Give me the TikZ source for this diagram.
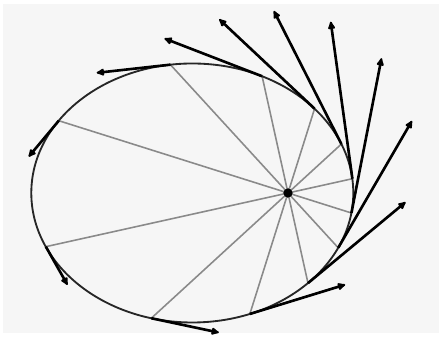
\documentclass[tikz,border=0pt]{standalone}
\usepackage{xcolor}
\usetikzlibrary{arrows.meta}
\definecolor{bgpanel}{HTML}{F6F6F6}
\definecolor{spokegray}{HTML}{8A8A8A}
\def\ecc{0.594}
\def\semilat{104.2}
\begin{document}
\begin{tikzpicture}[x=0.02cm, y=0.02cm, orbit/.style={line width=1.05pt, black!85}, spoke/.style={line width=0.9pt, spokegray}, vel/.style={line width=1.5pt, -{Latex[round,length=5.5pt,width=5pt]}}, sun/.style={circle, fill=black, inner sep=0pt, minimum size=5.2pt}]
\useasboundingbox (-288,-144) rectangle (153,193);
\fill[white] (-288,-144) rectangle (153,193);
\fill[bgpanel] (-285,-140) rectangle (151,189);
\node[sun] (sun) at (0,0) {};
\foreach \k in {0,...,11}{
  \pgfmathsetmacro\th{12.5+30*\k}
  \pgfmathsetmacro\rr{\semilat/(1+\ecc*cos(\th))}
  \pgfmathsetmacro\vx{\rr*cos(\th)-100*sin(\th)}
  \pgfmathsetmacro\vy{\rr*sin(\th)+100*(\ecc+cos(\th))}
  \coordinate (p\k) at (\th:\rr);
  \coordinate (v\k) at (\vx,\vy);
  \draw[spoke] (sun.center)--(p\k);
}
\draw[orbit] (-95.7,0) ellipse [x radius=161, y radius=129.5];
\foreach \k in {0,...,11}
  \draw[vel] (p\k)--(v\k);
\node[sun] at (sun) {};
\end{tikzpicture}
\end{document}
